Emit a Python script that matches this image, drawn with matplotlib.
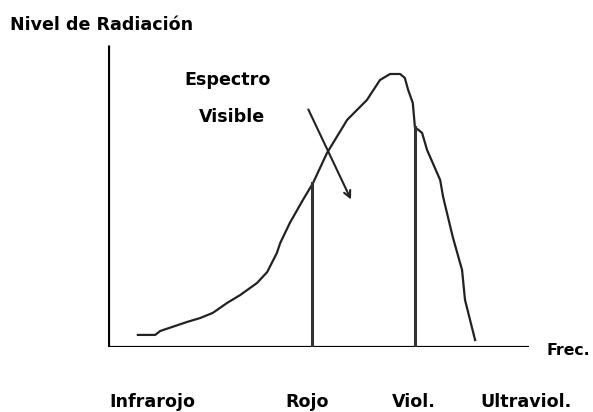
import numpy as np
import matplotlib
matplotlib.use('Agg')
import matplotlib.pyplot as plt

# radiation curve (frequency vs level, arbitrary units 0-100)
freq = [7.1, 11.2, 12.4, 18.8, 21.9, 24.9, 28.3, 31.4, 35.4, 37.8, 40.1, 40.9, 43.2, 46.3,
        48.7, 52.0, 56.8, 61.5, 64.6, 67.0, 69.4, 70.5, 71.3, 72.4, 72.9, 74.6, 75.8, 78.9,
        79.6, 81.9, 84.1, 84.8, 87.2]
level = [4.0, 4.0, 5.3, 8.3, 9.6, 11.3, 14.6, 17.2, 21.2, 24.8, 31.1, 34.4, 41.1, 48.7,
         54.3, 64.2, 75.2, 81.8, 88.4, 90.4, 90.4, 89.1, 85.1, 80.8, 72.8, 70.9, 65.2, 55.3,
         49.7, 36.4, 25.5, 15.6, 2.3]

# visible band limits (rojo, violeta)
band_x = [48.5, 72.9]
band_top = [54.3, 72.8]

band_names = ['Infrarojo', 'Rojo', 'Viol.', 'Ultraviol.']
band_pos = [10.5, 47.3, 72.7, 99.3]

arrow_start = (47.3, 79.5)
arrow_end = (58.0, 48.0)

fig = plt.figure(figsize=(5.93, 4.12), dpi=100)
ax = fig.add_axes([108 / 593, 65 / 412, 421 / 593, 302 / 412])
ax.set_xlim(0, 100)
ax.set_ylim(0, 100)
ax.axis('off')

fnt = dict(fontsize=12.6, fontweight='bold', family='DejaVu Sans', color='black')

# axes lines
ax.plot([0, 0], [0, 100], color='black', lw=2.3, solid_capstyle='butt')
ax.plot([-0.3, 100], [0, 0], color='black', lw=2.3, solid_capstyle='butt')

ax.plot(freq, level, color='#222222', lw=1.6)

for x, top in zip(band_x, band_top):
    ax.plot([x, x], [0, top], color='#333333', lw=2.2)

ax.annotate('', xy=arrow_end, xytext=arrow_start,
            arrowprops=dict(arrowstyle='->', color='#222222', lw=1.5, mutation_scale=12))

ax.text(-23.2, 106.5, 'Nivel de Radiación', ha='left', va='center', clip_on=False, **fnt)
ax.text(28.5, 88.5, 'Espectro', ha='center', va='center', **fnt)
ax.text(29.5, 76.0, 'Visible', ha='center', va='center', **fnt)
ax.text(104.2, -1.0, 'Frec.', ha='left', va='center', clip_on=False,
        **{**fnt, 'fontsize': 11.3})
for name, x in zip(band_names, band_pos):
    ax.text(x, -18.2, name, ha='center', va='center', clip_on=False, **fnt)

fig.savefig('out.png', dpi=100)
